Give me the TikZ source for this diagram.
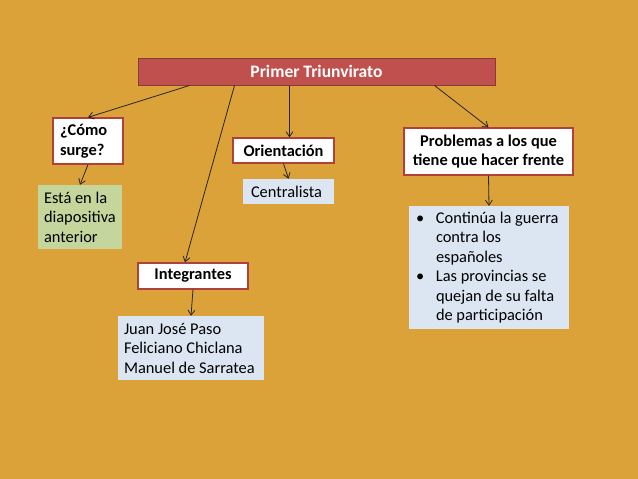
\documentclass[tikz,border=0pt]{standalone}
\usepackage{fontspec}
\setmainfont{Carlito}
\RequirePackage{xcolor}
\usetikzlibrary{arrows.meta}
\definecolor{bgorange}{RGB}{218,162,56}
\definecolor{titlered}{RGB}{192,80,77}
\definecolor{titleedge}{RGB}{140,56,54}
\definecolor{headedge}{RGB}{176,64,58}
\definecolor{noteblue}{RGB}{220,230,242}
\definecolor{notegreen}{RGB}{196,214,155}
\tikzset{
  every node/.style={font=\fontsize{16.4}{19.5}\selectfont},
  titlebox/.style={fill=titlered, draw=titleedge, line width=1pt, text=white,
    font=\fontsize{17.5}{19.5}\selectfont\bfseries},
  headbox/.style={fill=white, draw=headedge, line width=1.3pt,
    font=\fontsize{16.4}{19.5}\selectfont\bfseries},
  notebox/.style={fill=noteblue, align=flush left},
  greenbox/.style={fill=notegreen, align=flush left},
  link/.style={draw=black!85, line width=0.8pt, -{Straight Barb[length=5pt,width=7pt]}}
}

\begin{document}
\begin{tikzpicture}[x=1pt, y=-1pt]
  \fill [bgorange] (0,0) rectangle (638,479);
  \useasboundingbox (0,0) rectangle (638,479);

  \node [titlebox, minimum width=357, minimum height=27] (title) at (316.5,71.5) {Primer Triunvirato};

  \node [headbox, minimum width=70, minimum height=46, text width=56, inner xsep=7, inner ysep=5, align=flush left] (como) at (88,141) {¿Cómo\\surge?};
  \node [headbox, minimum width=101, minimum height=25, inner sep=2] (orient) at (283.5,150.5) {Orientación};
  \node [headbox, minimum width=169, minimum height=47, inner sep=2, align=center] (prob) at (488.5,151.5) {Problemas a los que\\tiene que hacer frente};
  \node [headbox, minimum width=110, minimum height=26, inner sep=2] (integ) at (193,276) {Integrantes};

  \node [greenbox, minimum width=84, minimum height=64, text width=72, inner xsep=6, inner ysep=3] (surge) at (80,217) {Está en la\\diapositiva\\anterior};
  \node [notebox, minimum width=91, minimum height=25, text width=75, inner xsep=8, inner ysep=4] (central) at (288.5,191.5) {Centralista};
  \node [notebox, minimum width=160, minimum height=123, text width=152, inner sep=4] (lista) at (489,267.5)
    {\makebox[23pt][l]{\hspace{3pt}•}Continúa la guerra\\ \hspace*{23pt}contra los\\ \hspace*{23pt}españoles\\
     \makebox[23pt][l]{\hspace{3pt}•}Las provincias se\\ \hspace*{23pt}quejan de su falta\\ \hspace*{23pt}de participación};
  \node [notebox, minimum width=146, minimum height=64, text width=134, inner xsep=6, inner ysep=3] (nombres) at (191,348)
    {Juan José Paso\\Feliciano Chiclana\\Manuel de Sarratea};

  \draw [link] ([xshift=-127pt]title.south) -- (como.north);
  \draw [link] ([xshift=-82pt]title.south) -- ([xshift=-8pt]integ.north);
  \draw [link] ([xshift=-27pt]title.south) -- ([xshift=6pt]orient.north);
  \draw [link] ([xshift=118pt]title.south) -- (prob.north);

  \draw [link] (como.south) -- (surge.north);
  \draw [link] (orient.south) -- (central.north);
  \draw [link] (prob.south) -- (lista.north);
  \draw [link] (integ.south) -- (nombres.north);

\end{tikzpicture}
\end{document}
